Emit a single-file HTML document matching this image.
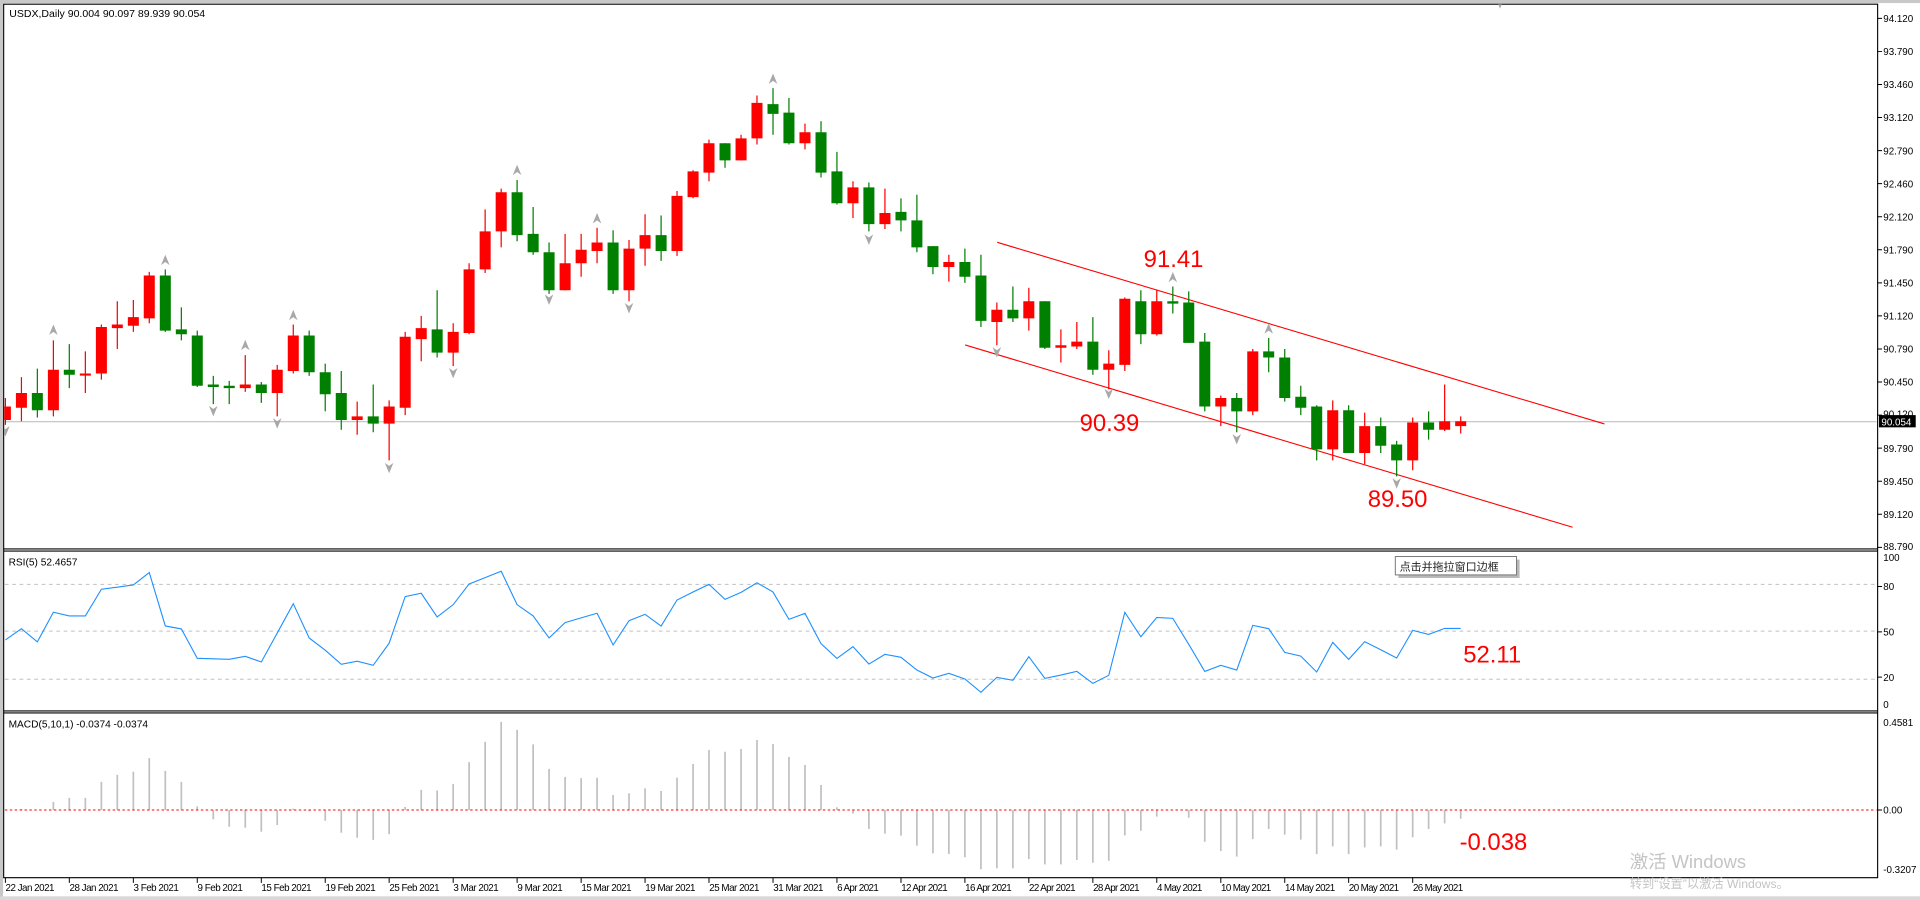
<!DOCTYPE html>
<html><head><meta charset="utf-8"><style>
html,body{margin:0;padding:0;background:#fff;overflow:hidden}
svg{display:block}
text{font-family:"Liberation Sans","Noto Sans CJK SC",sans-serif}
</style></head><body>
<svg width="1920" height="900" viewBox="0 0 1568 735" preserveAspectRatio="none" xmlns="http://www.w3.org/2000/svg">
<defs>
<clipPath id="cm"><rect x="3.5" y="3.5" width="1529" height="444"/></clipPath>
<clipPath id="cr"><rect x="3.5" y="450.5" width="1529" height="130"/></clipPath>
<clipPath id="cd"><rect x="3.5" y="582.5" width="1529" height="134"/></clipPath>
</defs>
<rect x="0" y="0" width="1568" height="735" fill="#fff"/>
<rect x="0" y="0" width="1568" height="2.5" fill="#c8c8c8"/>
<rect x="0" y="0" width="2.5" height="735" fill="#c8c8c8"/>
<rect x="0" y="732" width="1568" height="3" fill="#d8d8d8"/>
<!-- frames -->
<g stroke="#000" stroke-width="0.9" fill="none">
<path d="M3 3.4H1533.4V716.8H3Z"/>
<path d="M3 448.3H1533.4M3 450H1533.4M3 580.6H1533.4M3 582.2H1533.4"/>
</g>
<!-- main pane -->
<g clip-path="url(#cm)">
<path d="M3 344.4H1533" stroke="#c0c0c0" stroke-width="0.9"/>
<g stroke="#ff0000" stroke-width="0.9">
<path d="M814.4 197.9L1310.3 346.2M788.2 281.7L1284.3 430.6"/>
</g>
<path stroke="#ff0000" stroke-width="1" fill="none" d="M4.4 325V347M17.5 308V344M43.6 278V340M69.7 287V321M82.8 265V310M95.8 246V285M108.9 245V271M121.9 222V264M200.3 290V320M226.4 298V340M239.5 265V305M291.7 328V355M317.8 327V376M330.9 271V339M344 258V295M370.1 264V299M383.1 215V273M396.2 171V223M409.3 154V202M461.5 191V237M474.6 191V226M487.6 186V215M513.7 196V246M526.8 175V217M552.9 156V209M566 139V162M579 114V148M605.2 110V131M618.2 78V118M657.4 101V122M696.6 148V178M722.7 154V187M774.9 208V230M814.1 247V282M840.2 235V270M866.4 269V296M879.4 263V285M905.5 286V318M918.6 243V303M944.7 237V274M997 323V348M1023.1 285V339M1088.4 327V376M1114.5 337V379M1153.7 341V384M1179.8 314V352M1192.9 340V354"/>
<path fill="#ff0000" d="M-0.1 332h9V343h-9zM13 321h9V333h-9zM39.1 302h9V335h-9zM65.2 305h9V306.8h-9zM78.3 267h9V305h-9zM91.3 265h9V268h-9zM104.4 259h9V266h-9zM117.4 225h9V260h-9zM195.8 314h9V317h-9zM221.9 302h9V321h-9zM235 274h9V303h-9zM287.2 340h9V343h-9zM313.3 332h9V346h-9zM326.4 275h9V333h-9zM339.5 268h9V277h-9zM365.6 271h9V288h-9zM378.6 220h9V272h-9zM391.7 189h9V220h-9zM404.8 157h9V189h-9zM457 215h9V237h-9zM470.1 204h9V215h-9zM483.1 198h9V205h-9zM509.2 203h9V237h-9zM522.3 192h9V203h-9zM548.4 160h9V205h-9zM561.5 140h9V161h-9zM574.5 117h9V141h-9zM600.7 113h9V131h-9zM613.7 84h9V113h-9zM652.9 108h9V117h-9zM692.1 153h9V166h-9zM718.2 174h9V183h-9zM770.4 214h9V218h-9zM809.6 253h9V263h-9zM835.7 246h9V260h-9zM861.9 282h9V284h-9zM874.9 279h9V283h-9zM901 297h9V302h-9zM914.1 244h9V298h-9zM940.2 246h9V273h-9zM992.5 325h9V332h-9zM1018.6 287h9V336h-9zM1083.9 335h9V367h-9zM1110 348h9V370h-9zM1149.2 345h9V376h-9zM1175.3 344h9V351h-9zM1188.4 344h9V348h-9z"/>
<path stroke="#008000" stroke-width="1" fill="none" d="M30.5 301V341M56.6 281V317M135 220V271M148.1 251V278M161.1 270V316M174.2 307V330M187.2 311V330M213.4 312V329M252.5 270V307M265.6 297V336M278.7 303V351M304.8 314V353M357 237V292M422.3 147V197M435.4 169V208M448.4 198V240M500.7 188V240M539.9 176V213M592.1 117V137M631.3 72V110M644.3 80V118M670.5 99V145M683.5 124V167M709.6 149V189M735.8 162V189M748.8 159V206M761.9 201V224M788 203V231M801.1 208V267M827.2 234V263M853.3 246V285M892.5 259V306M931.7 237V281M957.8 234V256M970.8 238V280M983.9 272V336M1010 321V353M1036.1 276V304M1049.2 285V328M1062.3 315V339M1075.3 331V376M1101.4 331V370M1127.6 341V370M1140.6 360V389M1166.7 336V359"/>
<path fill="#008000" d="M26 321h9V335h-9zM52.1 302h9V306h-9zM130.5 225h9V270h-9zM143.6 269h9V273h-9zM156.6 274h9V315h-9zM169.7 314h9V316h-9zM182.7 315h9V317h-9zM208.9 314h9V321h-9zM248 274h9V304h-9zM261.1 304h9V322h-9zM274.2 321h9V343h-9zM300.3 340h9V346h-9zM352.5 269h9V288h-9zM417.8 157h9V192h-9zM430.9 191h9V206h-9zM443.9 206h9V237h-9zM496.2 198h9V237h-9zM535.4 192h9V205h-9zM587.6 117h9V131h-9zM626.8 85h9V93h-9zM639.8 92h9V117h-9zM666 108h9V141h-9zM679 140h9V166h-9zM705.1 153h9V183h-9zM731.3 173h9V180h-9zM744.3 180h9V202h-9zM757.4 201h9V218h-9zM783.5 214h9V226h-9zM796.6 225h9V262h-9zM822.7 253h9V260h-9zM848.8 246h9V284h-9zM888 279h9V302h-9zM927.2 246h9V273h-9zM953.3 246h9V248h-9zM966.3 247h9V280h-9zM979.4 279h9V332h-9zM1005.5 325h9V336h-9zM1031.6 287h9V292h-9zM1044.7 292h9V325h-9zM1057.8 324h9V333h-9zM1070.8 332h9V367h-9zM1096.9 335h9V370h-9zM1123.1 348h9V364h-9zM1136.1 363h9V376h-9zM1162.2 345h9V351h-9z"/>
<!-- fractal arrows -->
<g fill="#a8a8a8">
<g id="up">
<path d="M43.6 265l3.5 8.5-3.5-2.5-3.5 2.5z"/><path d="M135 208l3.5 8.5-3.5-2.5-3.5 2.5z"/><path d="M200.3 277.5l3.5 8.5-3.5-2.5-3.5 2.5z"/><path d="M239.5 253l3.5 8.5-3.5-2.5-3.5 2.5z"/><path d="M422.3 134.5l3.5 8.5-3.5-2.5-3.5 2.5z"/><path d="M487.6 174l3.5 8.5-3.5-2.5-3.5 2.5z"/><path d="M631.3 60l3.5 8.5-3.5-2.5-3.5 2.5z"/><path d="M957.8 222l3.5 8.5-3.5-2.5-3.5 2.5z"/><path d="M1036.1 264l3.5 8.5-3.5-2.5-3.5 2.5z"/>
</g>
<path d="M4.4 356.5l3.5-8.5-3.5 2.5-3.5-2.5z"/><path d="M174.2 340l3.5-8.5-3.5 2.5-3.5-2.5z"/><path d="M226.4 350l3.5-8.5-3.5 2.5-3.5-2.5z"/><path d="M317.8 386.5l3.5-8.5-3.5 2.5-3.5-2.5z"/><path d="M370.1 309l3.5-8.5-3.5 2.5-3.5-2.5z"/><path d="M448.4 249l3.5-8.5-3.5 2.5-3.5-2.5z"/><path d="M513.7 256l3.5-8.5-3.5 2.5-3.5-2.5z"/><path d="M709.6 200l3.5-8.5-3.5 2.5-3.5-2.5z"/><path d="M814.1 292l3.5-8.5-3.5 2.5-3.5-2.5z"/><path d="M905.5 326l3.5-8.5-3.5 2.5-3.5-2.5z"/><path d="M1010 363l3.5-8.5-3.5 2.5-3.5-2.5z"/><path d="M1140.6 399l3.5-8.5-3.5 2.5-3.5-2.5z"/><path d="M1225 7l3.5-8.5-3.5 2.5-3.5-2.5z"/>
</g>
<g fill="#ff0000" font-size="19.5">
<text x="934" y="218">91.41</text>
<text x="881.7" y="352">90.39</text>
<text x="1117" y="414">89.50</text>
</g>
</g>
<text x="7.6" y="14" font-size="8.6" fill="#000">USDX,Daily  90.004 90.097 89.939 90.054</text>
<!-- RSI -->
<g stroke="#c0c0c0" stroke-width="0.8" stroke-dasharray="3,3">
<path d="M4 477.2H1533M4 515.4H1533M4 554.7H1533"/>
</g>
<g clip-path="url(#cr)">
<polyline fill="none" stroke="#1e90ff" stroke-width="0.9" points="4.4,522.6 17.5,513.4 30.5,524.2 43.6,500 56.6,503 69.7,503 82.8,481.2 95.8,479.5 108.9,477.7 121.9,467.6 135,511.2 148.1,513.6 161.1,537.6 174.2,538 187.2,538.4 200.3,536 213.4,540.6 226.4,517 239.5,493 252.5,521 265.6,531 278.7,542.5 291.7,540 304.8,543.3 317.8,525.3 330.9,487.2 344,484.5 357,503.8 370.1,493.8 383.1,476.9 396.2,471.7 409.3,466.5 422.3,493.8 435.4,503 448.4,521 461.5,508.5 474.6,504.6 487.6,500.8 500.7,526.7 513.7,506.9 526.8,501.7 539.9,511.3 552.9,490 566,483.5 579,477.2 592.1,489.5 605.2,483.8 618.2,475.9 631.3,483.5 644.3,505.8 657.4,500.9 670.5,525.7 683.5,537.7 696.6,528.1 709.6,542.3 722.7,534.4 735.8,536.8 748.8,547.2 761.9,553.7 774.9,549.9 788,554.5 801.1,565.4 814.1,553.2 827.2,555.6 840.2,536.3 853.3,554 866.4,551.3 879.4,548.3 892.5,558.1 905.5,551.5 918.6,500.1 931.7,520 944.7,504.2 957.8,505 970.8,526.2 983.9,548.3 997,543.4 1010,547.2 1023.1,510.7 1036.1,513.4 1049.2,532.8 1062.3,535.8 1075.3,548.8 1088.4,524.6 1101.4,538.5 1114.5,524 1127.6,530.6 1140.6,537.4 1153.7,514.8 1166.7,518.1 1179.8,513.2 1192.9,513.2"/>
</g>
<text x="7" y="462" font-size="8.3" fill="#000">RSI(5) 52.4657</text>
<text x="1195" y="541" font-size="19.5" fill="#ff0000">52.11</text>
<!-- tooltip -->
<rect x="1142" y="457" width="99" height="15" fill="#b8b8b8"/>
<rect x="1139.5" y="454.5" width="99" height="15" fill="#fff" stroke="#767676" stroke-width="0.8"/>
<text x="1143" y="465.8" font-size="9" fill="#222">点击并拖拉窗口边框</text>
<!-- MACD -->
<g clip-path="url(#cd)">
<path stroke="#c0c0c0" stroke-width="1.4" fill="none" d="M17.5 661.5V660.7M43.6 661.5V654.9M56.6 661.5V651.6M69.7 661.5V651.6M82.8 661.5V638.5M95.8 661.5V632.8M108.9 661.5V630.3M121.9 661.5V619.1M135 661.5V629.5M148.1 661.5V638.5M161.1 661.5V658.5M174.2 661.5V669.2M187.2 661.5V675.2M200.3 661.5V676M213.4 661.5V679.3M226.4 661.5V673.8M239.5 661.5V660.4M252.5 661.5V662.5M265.6 661.5V670.3M278.7 661.5V680.1M291.7 661.5V684.2M304.8 661.5V685.9M317.8 661.5V681.2M330.9 661.5V659M344 661.5V645.1M357 661.5V645.6M370.1 661.5V640.2M383.1 661.5V622.4M396.2 661.5V605.9M409.3 661.5V589.5M422.3 661.5V596.1M435.4 661.5V607.9M448.4 661.5V627.9M461.5 661.5V634.4M474.6 661.5V635.5M487.6 661.5V635.2M500.7 661.5V649.2M513.7 661.5V647.9M526.8 661.5V643.8M539.9 661.5V646M552.9 661.5V635.1M566 661.5V623.9M579 661.5V612.5M592.1 661.5V613.9M605.2 661.5V611.7M618.2 661.5V604.3M631.3 661.5V607.6M644.3 661.5V618.2M657.4 661.5V624.8M670.5 661.5V641.1M683.5 661.5V659.3M696.6 661.5V664.5M709.6 661.5V677M722.7 661.5V680.8M735.8 661.5V682.4M748.8 661.5V690.6M761.9 661.5V696.9M774.9 661.5V697.4M788 661.5V700.1M801.1 661.5V709.9M814.1 661.5V709.1M827.2 661.5V709.1M840.2 661.5V701.5M853.3 661.5V705.9M866.4 661.5V705.9M879.4 661.5V702.3M892.5 661.5V704.5M905.5 661.5V702.9M918.6 661.5V682.2M931.7 661.5V678.4M944.7 661.5V666.9M970.8 661.5V667.8M983.9 661.5V687.4M997 661.5V695M1010 661.5V699.6M1023.1 661.5V685.3M1036.1 661.5V677M1049.2 661.5V681.6M1062.3 661.5V685.7M1075.3 661.5V697.5M1088.4 661.5V691.2M1101.4 661.5V697.5M1114.5 661.5V692M1127.6 661.5V691.2M1140.6 661.5V693.9M1153.7 661.5V683.8M1166.7 661.5V677M1179.8 661.5V672.4M1192.9 661.5V668.6"/>
<path d="M4 661.5H1533" stroke="#ff0000" stroke-width="0.9" stroke-dasharray="2,2"/>
</g>
<text x="7" y="594" font-size="8.3" fill="#000">MACD(5,10,1) -0.0374 -0.0374</text>
<text x="1192" y="694" font-size="19.5" fill="#ff0000">-0.038</text>
<!-- right axis -->
<g stroke="#000" stroke-width="0.8">
<path d="M1533 15H1537M1533 42H1537M1533 69H1537M1533 96H1537M1533 123H1537M1533 150H1537M1533 177H1537M1533 204H1537M1533 231H1537M1533 258H1537M1533 285H1537M1533 312H1537M1533 339H1537M1533 366H1537M1533 393H1537M1533 420H1537M1533 447H1537M1533 479H1537M1533 516H1537M1533 553H1537M1533 661.5H1537"/>
</g>
<g font-size="8" fill="#000">
<text x="1538" y="18">94.120</text><text x="1538" y="45">93.790</text><text x="1538" y="72">93.460</text><text x="1538" y="99">93.120</text><text x="1538" y="126">92.790</text><text x="1538" y="153">92.460</text><text x="1538" y="180">92.120</text><text x="1538" y="207">91.790</text><text x="1538" y="234">91.450</text><text x="1538" y="261">91.120</text><text x="1538" y="288">90.790</text><text x="1538" y="315">90.450</text><text x="1538" y="341">90.120</text><text x="1538" y="369">89.790</text><text x="1538" y="396">89.450</text><text x="1538" y="423">89.120</text><text x="1538" y="449">88.790</text>
<text x="1538" y="458">100</text><text x="1538" y="482">80</text><text x="1538" y="519">50</text><text x="1538" y="556">20</text><text x="1538" y="578">0</text>
<text x="1538" y="593">0.4581</text><text x="1538" y="664.5">0.00</text><text x="1538" y="713">-0.3207</text>
</g>
<rect x="1534.5" y="339" width="30" height="10" fill="#000"/>
<text x="1536.5" y="347.3" font-size="8" fill="#fff">90.054</text>
<!-- date axis -->
<path stroke="#000" stroke-width="0.8" d="M4.4 717V721M56.6 717V721M108.9 717V721M161.1 717V721M213.4 717V721M265.6 717V721M317.8 717V721M370.1 717V721M422.3 717V721M474.6 717V721M526.8 717V721M579 717V721M631.3 717V721M683.5 717V721M735.8 717V721M788 717V721M840.2 717V721M892.5 717V721M944.7 717V721M997 717V721M1049.2 717V721M1101.4 717V721M1153.7 717V721"/>
<g font-size="8" fill="#000">
<text x="4.5" y="727.5" textLength="40">22 Jan 2021</text>
<text x="56.8" y="727.5" textLength="40">28 Jan 2021</text>
<text x="109" y="727.5" textLength="37">3 Feb 2021</text>
<text x="161.3" y="727.5" textLength="37">9 Feb 2021</text>
<text x="213.5" y="727.5" textLength="41">15 Feb 2021</text>
<text x="265.8" y="727.5" textLength="41">19 Feb 2021</text>
<text x="318" y="727.5" textLength="41">25 Feb 2021</text>
<text x="370.3" y="727.5" textLength="37">3 Mar 2021</text>
<text x="422.5" y="727.5" textLength="37">9 Mar 2021</text>
<text x="474.8" y="727.5" textLength="41">15 Mar 2021</text>
<text x="527" y="727.5" textLength="41">19 Mar 2021</text>
<text x="579.2" y="727.5" textLength="41">25 Mar 2021</text>
<text x="631.5" y="727.5" textLength="41">31 Mar 2021</text>
<text x="683.7" y="727.5" textLength="34">6 Apr 2021</text>
<text x="736" y="727.5" textLength="38">12 Apr 2021</text>
<text x="788.2" y="727.5" textLength="38">16 Apr 2021</text>
<text x="840.4" y="727.5" textLength="38">22 Apr 2021</text>
<text x="892.7" y="727.5" textLength="38">28 Apr 2021</text>
<text x="944.9" y="727.5" textLength="37">4 May 2021</text>
<text x="997.2" y="727.5" textLength="41">10 May 2021</text>
<text x="1049.4" y="727.5" textLength="41">14 May 2021</text>
<text x="1101.6" y="727.5" textLength="41">20 May 2021</text>
<text x="1153.9" y="727.5" textLength="41">26 May 2021</text>
</g>
<!-- watermark -->
<text x="1331" y="709" font-size="15" fill="#c4c4c4">激活 Windows</text>
<text x="1331" y="725" font-size="10" fill="#c4c4c4">转到“设置”以激活 Windows。</text>
</svg>
</body></html>
